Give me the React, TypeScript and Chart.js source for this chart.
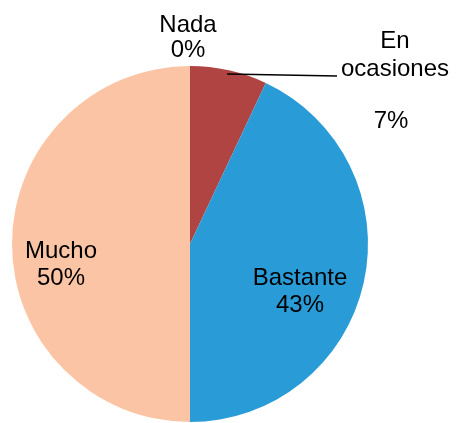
import React, { useEffect, useRef } from "react";
import { Chart, registerables } from "chart.js";

Chart.register(...registerables);

const categories = ["Nada", "En ocasiones", "Bastante", "Mucho"];
const values = [0, 7, 43, 50];
const percentLabels = ["0%", "7%", "43%", "50%"];
const colors = ["#8C8C8C", "#AF4442", "#299CD7", "#FBC5A5"];

// label placement relative to pie center (px), per slice
const labelSpots = [
  { lines: [categories[0], percentLabels[0]], x: -2, y: -212, lh: 25 },
  { lines: ["En", "ocasiones"], x: 205, y: -196, lh: 28 },
  { lines: [percentLabels[1]], x: 201, y: -116, lh: 28 },
  { lines: [categories[2], percentLabels[2]], x: 110, y: 41, lh: 27 },
  { lines: [categories[3], percentLabels[3]], x: -129, y: 14, lh: 27 },
];

const labelPlugin = {
  id: "pieLabels",
  afterDraw(chart: any) {
    const meta = chart.getDatasetMeta(0);
    const arc = meta.data[0];
    if (!arc) return;
    const cx = arc.x;
    const cy = arc.y;
    const ctx = chart.ctx;
    ctx.save();
    ctx.fillStyle = "#000";
    ctx.font = "24px 'Liberation Sans', Arial, sans-serif";
    ctx.textAlign = "center";
    ctx.textBaseline = "alphabetic";
    labelSpots.forEach((s) => {
      s.lines.forEach((t, i) => {
        ctx.fillText(t, cx + s.x, cy + s.y + i * s.lh);
      });
    });
    // leader line for "En ocasiones"
    const a1 = meta.data[1];
    const r = a1.outerRadius;
    const ang = -Math.PI / 2 + 0.215;
    ctx.strokeStyle = "#000";
    ctx.lineWidth = 1.6;
    ctx.beginPath();
    ctx.moveTo(cx + Math.cos(ang) * (r - 4), cy + Math.sin(ang) * (r - 4));
    ctx.lineTo(cx + 147, cy - 168);
    ctx.stroke();
    ctx.restore();
  },
};

export default function App() {
  const ref = useRef<HTMLCanvasElement>(null);
  useEffect(() => {
    document.body.style.margin = "0";
    const chart = new Chart(ref.current!, {
      type: "pie",
      data: {
        labels: categories,
        datasets: [
          {
            data: values,
            backgroundColor: colors,
            borderWidth: 0,
          },
        ],
      },
      options: {
        responsive: false,
        animation: false,
        layout: { padding: { left: 12, right: 89, top: 66, bottom: 1 } },
        plugins: {
          legend: { display: false },
          tooltip: { enabled: false },
          title: { display: false },
        },
      },
      plugins: [labelPlugin],
    });
    return () => chart.destroy();
  }, []);
  return (
    <div style={{ width: 457, height: 423, background: "#fff" }}>
      <canvas ref={ref} width={457} height={423} />
    </div>
  );
}
